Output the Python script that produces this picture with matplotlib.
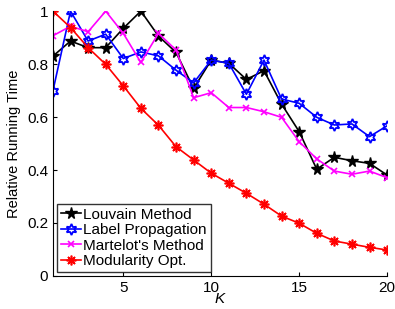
import numpy as np
import matplotlib
matplotlib.use("Agg")
import matplotlib.pyplot as plt

K = list(range(1, 21))
louvain = [0.830, 0.887, 0.862, 0.862, 0.935, 1.0, 0.906, 0.844, 0.708, 0.815,
           0.803, 0.742, 0.775, 0.649, 0.545, 0.403, 0.448, 0.435, 0.425, 0.381]
labelprop = [0.699, 1.0, 0.887, 0.913, 0.821, 0.846, 0.831, 0.777, 0.729, 0.815,
             0.803, 0.686, 0.815, 0.668, 0.652, 0.599, 0.570, 0.574, 0.526, 0.567]
martelot = [0.907, 0.943, 0.922, 1.0, 0.916, 0.806, 0.916, 0.853, 0.673, 0.692,
            0.636, 0.636, 0.620, 0.599, 0.507, 0.442, 0.396, 0.384, 0.396, 0.371]
modopt = [1.0, 0.938, 0.862, 0.799, 0.718, 0.633, 0.569, 0.488, 0.438, 0.388,
          0.350, 0.312, 0.271, 0.226, 0.199, 0.161, 0.132, 0.120, 0.108, 0.098]
labels = ["Louvain Method", "Label Propagation", "Martelot's Method", "Modularity Opt."]
xticks = [5, 10, 15, 20]
yticks = [0, 0.2, 0.4, 0.6, 0.8, 1.0]
yticklabels = ["0", "0.2", "0.4", "0.6", "0.8", "1"]

plt.rcParams['font.family'] = ['Liberation Sans', 'DejaVu Sans']
fig = plt.figure(figsize=(3.95, 3.09), dpi=100)
ax = fig.add_axes([0.134, 0.107, 0.846, 0.857])

ax.plot(K, louvain, color='black', marker='*', ms=8.5, lw=1.2, label=labels[0])
ax.plot(K, labelprop, color='#0000ff', marker=(6, 1, 0), ms=8, mfc='none', mew=1.3, lw=1.2, label=labels[1])
ax.plot(K, martelot, color='#ff00ff', marker='x', ms=5, mew=1.2, lw=1.2, label=labels[2])
ax.plot(K, modopt, color='#ff0000', marker=(8, 2, 0), ms=7, mew=1.2, lw=1.2, label=labels[3])

ax.set_xlim(1, 20)
ax.set_ylim(0, 1)
ax.set_xticks(xticks)
ax.set_yticks(yticks)
ax.set_yticklabels(yticklabels)
ax.tick_params(direction='in', labelsize=11, length=3)
ax.spines['top'].set_visible(False)
ax.spines['right'].set_visible(False)
ax.set_xlabel('K', fontstyle='italic', fontsize=11, labelpad=-2)
ax.set_ylabel('Relative Running Time', fontsize=10.5, labelpad=4)

leg = ax.legend(loc='lower left', fontsize=11, frameon=True, fancybox=False,
                edgecolor='black', borderpad=0.25, labelspacing=0.1,
                handlelength=1.35, handletextpad=0.15, borderaxespad=0.25)
leg.get_frame().set_linewidth(1.0)

fig.savefig('out.png', dpi=100)
